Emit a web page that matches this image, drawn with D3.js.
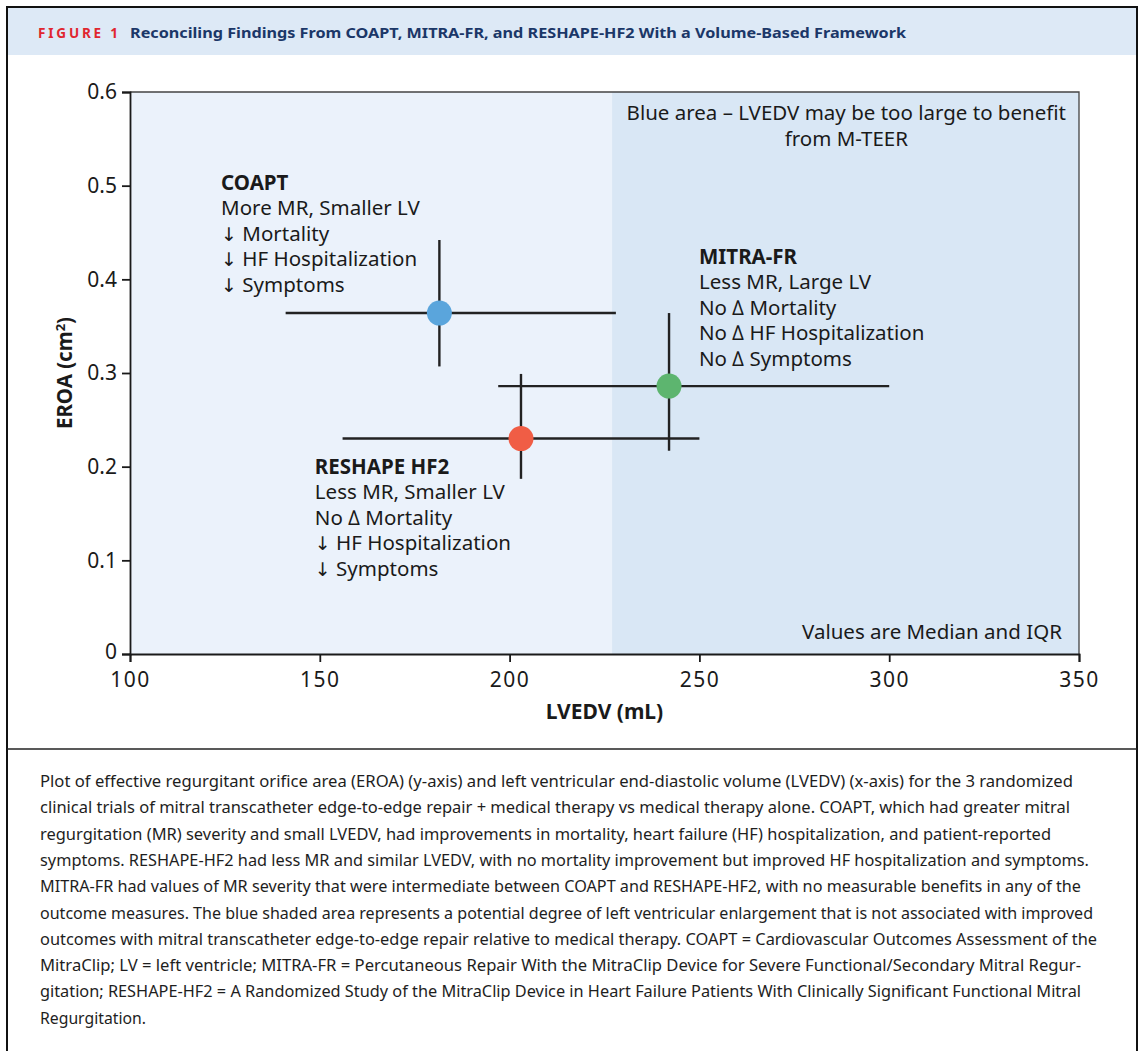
<!DOCTYPE html>
<html>
<head>
<meta charset="utf-8">
<script src="https://cdn.jsdelivr.net/npm/d3@7"></script>
<style>
  body { margin: 0; background: #fff; }
  svg { display: block; font-family: "Noto Sans", "Open Sans", sans-serif; }
</style>
</head>
<body>
<div id="chart"></div>
<script>
// trials: median and IQR
const trials = ["COAPT", "MITRA-FR", "RESHAPE HF2"];
const lvedvMedian = [181.5, 242, 203];
const lvedvLow = [141, 197, 156];
const lvedvHigh = [228, 300, 250];
const eroaMedian = [0.364, 0.286, 0.230];
const eroaLow = [0.307, 0.217, 0.187];
const eroaHigh = [0.442, 0.364, 0.299];
const trialColors = ["#5aa5dc", "#5db56f", "#f05d45"];

const xTicks = [100, 150, 200, 250, 300, 350];
const yTicks = [0, 0.1, 0.2, 0.3, 0.4, 0.5, 0.6];
const blueAreaStart = 227;

const notes = [
  ["COAPT", "More MR, Smaller LV", "\u2193 Mortality", "\u2193 HF Hospitalization", "\u2193 Symptoms"],
  ["MITRA-FR", "Less MR, Large LV", "No \u2206 Mortality", "No \u2206 HF Hospitalization", "No \u2206 Symptoms"],
  ["RESHAPE HF2", "Less MR, Smaller LV", "No \u2206 Mortality", "\u2193 HF Hospitalization", "\u2193 Symptoms"]
];
// where each note block starts, in data units
const noteAnchor = [[124, 0.4954], [249.9, 0.4164], [148.7, 0.1922]];

const captionLines = [
  "Plot of effective regurgitant orifice area (EROA) (y-axis) and left ventricular end-diastolic volume (LVEDV) (x-axis) for the 3 randomized",
  "clinical trials of mitral transcatheter edge-to-edge repair + medical therapy vs medical therapy alone. COAPT, which had greater mitral",
  "regurgitation (MR) severity and small LVEDV, had improvements in mortality, heart failure (HF) hospitalization, and patient-reported",
  "symptoms. RESHAPE-HF2 had less MR and similar LVEDV, with no mortality improvement but improved HF hospitalization and symptoms.",
  "MITRA-FR had values of MR severity that were intermediate between COAPT and RESHAPE-HF2, with no measurable benefits in any of the",
  "outcome measures. The blue shaded area represents a potential degree of left ventricular enlargement that is not associated with improved",
  "outcomes with mitral transcatheter edge-to-edge repair relative to medical therapy. COAPT = Cardiovascular Outcomes Assessment of the",
  "MitraClip; LV = left ventricle; MITRA-FR = Percutaneous Repair With the MitraClip Device for Severe Functional/Secondary Mitral Regur-",
  "gitation; RESHAPE-HF2 = A Randomized Study of the MitraClip Device in Heart Failure Patients With Clinically Significant Functional Mitral",
  "Regurgitation."
];
const captionEnds = [1073, 1070, 1051, 1089, 1081, 1093, 1097, 1081, 1081, 146];

const W = 1142, H = 1051;
const margin = { top: 92, right: 63, bottom: 397, left: 130 };

const svg = d3.select("#chart").append("svg")
  .attr("width", W)
  .attr("height", H);

// frame and header
svg.append("rect")
  .attr("x", 8).attr("y", 8).attr("width", 1128).attr("height", 47)
  .attr("fill", "#dde9f6");
svg.append("path")
  .attr("d", "M7,1051 V7 H1137 V1051")
  .attr("fill", "none").attr("stroke", "#111").attr("stroke-width", 2);
svg.append("line")
  .attr("x1", 7).attr("x2", 1137).attr("y1", 749).attr("y2", 749)
  .attr("stroke", "#222").attr("stroke-width", 1.5);

const header = svg.append("text")
  .attr("x", 38).attr("y", 38)
  .style("font-weight", "bold");
header.append("tspan")
  .attr("fill", "#e0262f")
  .style("font-size", "13.5px")
  .attr("textLength", 80)
  .attr("lengthAdjust", "spacing")
  .text("FIGURE 1");
header.append("tspan")
  .attr("x", 130)
  .attr("fill", "#1b3768")
  .style("font-size", "14px")
  .attr("textLength", 776)
  .attr("lengthAdjust", "spacingAndGlyphs")
  .text("Reconciling Findings From COAPT, MITRA-FR, and RESHAPE-HF2 With a Volume-Based Framework");

// chart
const width = W - margin.left - margin.right;
const height = H - margin.top - margin.bottom;
const g = svg.append("g").attr("transform", `translate(${margin.left},${margin.top})`);

const x = d3.scaleLinear().domain([100, 350]).range([0, width]);
const y = d3.scaleLinear().domain([0, 0.6]).range([height, 0]);

g.append("rect")
  .attr("width", width).attr("height", height)
  .attr("fill", "#ebf2fb");
g.append("rect")
  .attr("x", x(blueAreaStart)).attr("width", width - x(blueAreaStart)).attr("height", height)
  .attr("fill", "#d9e7f5");
g.append("path")
  .attr("d", `M0,0 H${width} V${height}`)
  .attr("fill", "none").attr("stroke", "#444").attr("stroke-width", 1.3);

const xAxis = g.append("g")
  .attr("transform", `translate(0,${height})`)
  .call(d3.axisBottom(x).tickValues(xTicks).tickSize(8).tickPadding(10).tickFormat(d3.format("d")));
const yAxis = g.append("g")
  .call(d3.axisLeft(y).tickValues(yTicks).tickSize(8).tickPadding(5).tickFormat(d => d === 0 ? "0" : d3.format(".1f")(d)));
[xAxis, yAxis].forEach(a => {
  a.selectAll("path, line").attr("stroke", "#1a1a1a").attr("stroke-width", 1.8);
  a.selectAll("text").attr("fill", "#1a1a1a").style("font-size", "21px").style("font-family", "Noto Sans, sans-serif");
});
xAxis.selectAll("text").style("letter-spacing", "1.5px");
// the "0" sits a touch higher so it clears the "100" below
yAxis.selectAll("text").filter(d => d === 0).attr("dy", "0.2em");

svg.append("text")
  .attr("x", margin.left + width / 2).attr("y", 719)
  .attr("text-anchor", "middle")
  .style("font-size", "21px").style("font-weight", "bold").attr("fill", "#1a1a1a")
  .text("LVEDV (mL)");
const yl = svg.append("text")
  .attr("transform", "translate(72,373) rotate(-90)")
  .attr("text-anchor", "middle")
  .style("font-size", "20.5px").style("font-weight", "bold").attr("fill", "#1a1a1a");
yl.append("tspan").text("EROA (cm");
yl.append("tspan").attr("dy", -7).style("font-size", "13px").text("2");
yl.append("tspan").attr("dy", 7).text(")");

// area notes
g.append("text")
  .attr("y", 28)
  .attr("text-anchor", "middle")
  .style("font-size", "20.5px").attr("fill", "#1a1a1a")
  .selectAll("tspan")
  .data(["Blue area \u2013 LVEDV may be too large to benefit", "from M-TEER"])
  .join("tspan")
  .attr("x", x(288.7))
  .attr("dy", (d, i) => i === 0 ? 0 : 26)
  .text(d => d);
g.append("text")
  .attr("x", x(345.5)).attr("y", y(0.0165))
  .attr("text-anchor", "end")
  .style("font-size", "20.5px").attr("fill", "#1a1a1a")
  .text("Values are Median and IQR");

// error bars and points
trials.forEach((t, i) => {
  g.append("line")
    .attr("x1", x(lvedvLow[i])).attr("x2", x(lvedvHigh[i]))
    .attr("y1", y(eroaMedian[i])).attr("y2", y(eroaMedian[i]))
    .attr("stroke", "#222").attr("stroke-width", 2.4);
  g.append("line")
    .attr("x1", x(lvedvMedian[i])).attr("x2", x(lvedvMedian[i]))
    .attr("y1", y(eroaLow[i])).attr("y2", y(eroaHigh[i]))
    .attr("stroke", "#222").attr("stroke-width", 2.4);
});
g.selectAll("circle.trial")
  .data(trials)
  .join("circle")
  .attr("class", "trial")
  .attr("cx", (d, i) => x(lvedvMedian[i]))
  .attr("cy", (d, i) => y(eroaMedian[i]))
  .attr("r", 12.5)
  .attr("fill", (d, i) => trialColors[i]);

// trial notes, arrows drawn in DejaVu so they come out full size
notes.forEach((lines, i) => {
  const x0 = x(noteAnchor[i][0]);
  lines.forEach((line, j) => {
    const t = g.append("text")
      .attr("x", x0).attr("y", y(noteAnchor[i][1]) + j * 25.5)
      .style("font-size", "20.5px").attr("fill", "#1a1a1a")
      .style("font-weight", j === 0 ? "bold" : "normal");
    if (line.startsWith("\u2193")) {
      t.append("tspan").style("font-family", "DejaVu Sans").style("font-size", "19px").text("\u2193");
      t.append("tspan").text(line.slice(1));
    } else {
      t.text(line);
    }
  });
});

// caption
svg.append("g")
  .selectAll("text")
  .data(captionLines)
  .join("text")
  .attr("x", 40)
  .attr("y", (d, i) => 787 + i * 26.3)
  .attr("textLength", (d, i) => captionEnds[i] - 40)
  .attr("lengthAdjust", "spacingAndGlyphs")
  .style("font-size", "15.5px")
  .attr("fill", "#1e1e1e")
  .text(d => d);
</script>
</body>
</html>
